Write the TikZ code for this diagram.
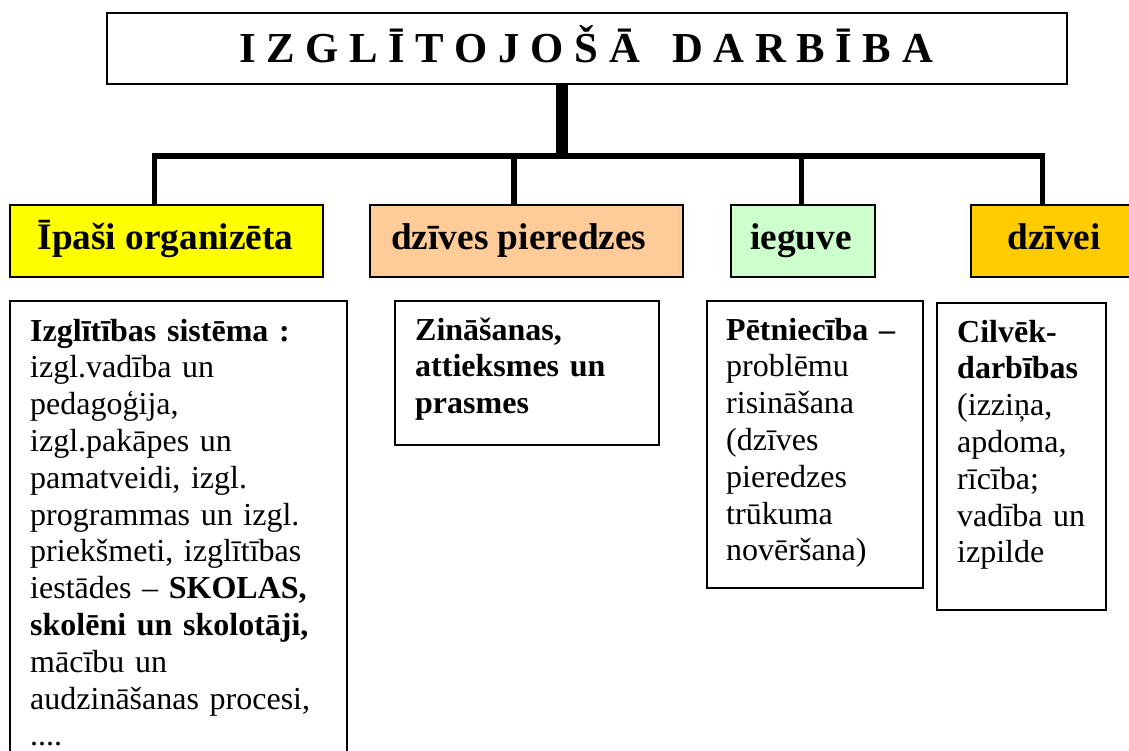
\documentclass[tikz,border=0pt]{standalone}
\usepackage{fontspec}
\setmainfont{Liberation Serif}
\definecolor{cyellow}{HTML}{FFFF00}
\definecolor{cpeach}{HTML}{FFCC99}
\definecolor{cgreen}{HTML}{CCFFCC}
\definecolor{cgold}{HTML}{FFCC00}
\begin{document}
\begin{tikzpicture}[x=1pt,y=-1pt,
  titlebox/.style={draw, line width=2pt, inner sep=0pt, anchor=north west},
  catbox/.style={draw, line width=1.8pt, inner sep=0pt, anchor=north west, minimum height=72pt},
  descbox/.style={draw, line width=1.6pt, inner sep=0pt, anchor=north west},
  titletext/.style={anchor=base, inner sep=0pt, font=\fontsize{42.7}{50}\selectfont\bfseries},
  cattext/.style={anchor=base, inner sep=0pt, font=\fontsize{37.3}{43}\selectfont\bfseries},
  desctext/.style={anchor=base west, inner sep=0pt, text width=330pt, align=left, font=\fontsize{32}{36.8}\selectfont},
  trunk/.style={line width=12pt},
  bar/.style={line width=6pt},
  drop/.style={line width=5.5pt}]
\useasboundingbox (0,0) rectangle (1129,751);
\clip (0,0) rectangle (1129,751);

% title
\node[titlebox, minimum width=960pt, minimum height=71pt] (title) at (106,12) {};
\node[titletext] (titlet) at (586,63) {I Z G L Ī T O J O Š Ā~~~D A R B Ī B A};

% category boxes
\node[catbox, fill=cyellow, minimum width=313pt] (yellow) at (9,204) {};
\node[catbox, fill=cpeach, minimum width=313pt] (peach) at (369,204) {};
\node[catbox, fill=cgreen, minimum width=144pt] (green) at (730,204) {};
\node[catbox, fill=cgold, minimum width=168pt] (gold) at (970,204) {};

\node[cattext] (yellowt) at (165.5,250) {Īpaši organizēta};
\node[cattext, anchor=base west] (peacht) at (391,250) {dzīves pieredzes};
\node[cattext] (greent) at (801,250) {ieguve};
\node[cattext] (goldt) at (1054,250) {dzīvei};

% connectors
\coordinate (hub) at (562,156);
\coordinate (barL) at (151.7,156);
\coordinate (barR) at (1045.3,156);
\coordinate (dA) at (154.5,154);
\coordinate (dB) at (514,154);
\coordinate (dC) at (801.5,154);
\coordinate (dD) at (1042.5,154);
\draw[bar] (barL) -- (barR);
\draw[trunk] (title.south -| hub) -- (hub);
\draw[drop] (dA) -- (dA |- yellow.north);
\draw[drop] (dB) -- (dB |- peach.north);
\draw[drop] (dC) -- (dC |- green.north);
\draw[drop] (dD) -- (dD |- gold.north);

% description boxes
\node[descbox, minimum width=337pt, minimum height=460pt] (box1) at (9,300) {};
\node[descbox, minimum width=264pt, minimum height=144pt] (box2) at (394,300) {};
\node[descbox, minimum width=216pt, minimum height=287pt] (box3) at (706,300) {};
\node[descbox, minimum width=169pt, minimum height=307pt] (box4) at (936,302) {};

\node[desctext] (box1t) at (30,341) {\textbf{Izglītības sistēma :}\\
izgl.vadība un\\
pedagoģija,\\
izgl.pakāpes un\\
pamatveidi, izgl.\\
programmas un izgl.\\
priekšmeti, izglītības\\
iestādes – \textbf{SKOLAS,}\\
\textbf{skolēni un skolotāji,}\\
mācību un\\
audzināšanas procesi,\\
....};

\node[desctext, font=\fontsize{32}{36.8}\selectfont\bfseries] (box2t) at (415,340) {Zināšanas,\\
attieksmes un\\
prasmes};

\node[desctext] (box3t) at (726,340) {\textbf{Pētniecība –}\\
problēmu\\
risināšana\\
(dzīves\\
pieredzes\\
trūkuma\\
novēršana)};

\node[desctext] (box4t) at (957,342) {\textbf{Cilvēk-}\\
\textbf{darbības}\\
(izziņa,\\
apdoma,\\
rīcība;\\
vadība un\\
izpilde};
\end{tikzpicture}
\end{document}
